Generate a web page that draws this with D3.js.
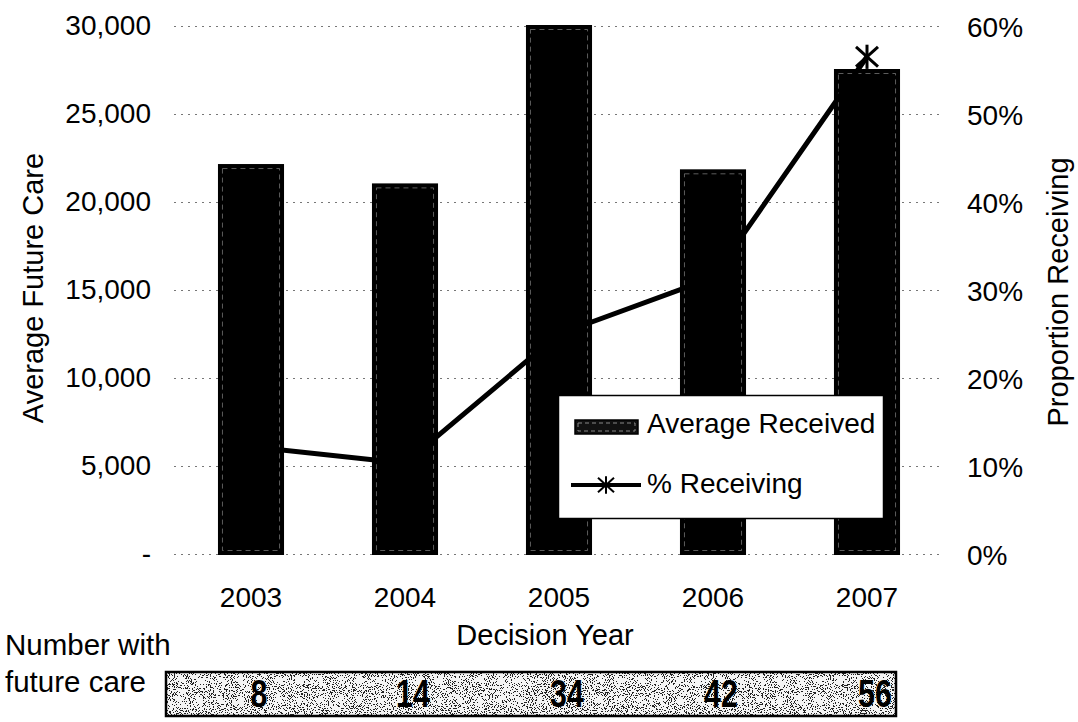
<!DOCTYPE html>
<html>
<head>
<meta charset="utf-8">
<script src="https://cdn.jsdelivr.net/npm/d3@7"></script>
<style>
  html, body { margin: 0; padding: 0; background: #fff; }
  svg { display: block; font-family: "Liberation Sans", Arial, sans-serif; }
</style>
</head>
<body>
<svg id="chart" width="1078" height="722"></svg>
<script>
// ---- data ----
const years = ["2003", "2004", "2005", "2006", "2007"];
const averageReceived = [22100, 21000, 30000, 21800, 27500];
const pctReceiving = [0.122, 0.103, 0.25, 0.314, 0.565];
const numberWithCare = [8, 14, 34, 42, 56];
const leftTicks = [0, 5000, 10000, 15000, 20000, 25000, 30000];
const leftTickLabels = ["-", "5,000", "10,000", "15,000", "20,000", "25,000", "30,000"];
const rightTicks = [0, 0.1, 0.2, 0.3, 0.4, 0.5, 0.6];
const rightTickLabels = ["0%", "10%", "20%", "30%", "40%", "50%", "60%"];
const seriesNames = ["Average Received", "% Receiving"];

// ---- layout ----
const plot = { left: 174, right: 944, top: 26, bottom: 554 };
const svg = d3.select("#chart");

const x = d3.scaleBand().domain(years).range([plot.left, plot.right])
  .paddingInner(0.584).paddingOuter(0.292);
const yL = d3.scaleLinear().domain([0, 30000]).range([plot.bottom, plot.top]);
const yR = d3.scaleLinear().domain([0, 0.6]).range([plot.bottom, plot.top]);

// speckled texture for the count strip
const defs = svg.append("defs");
const f = defs.append("filter").attr("id", "grain")
  .attr("x", 0).attr("y", 0).attr("width", "100%").attr("height", "100%");
f.append("feTurbulence").attr("type", "fractalNoise").attr("baseFrequency", 0.95)
  .attr("numOctaves", 2).attr("seed", 7).attr("result", "noise");
f.append("feColorMatrix").attr("in", "noise").attr("type", "matrix")
  .attr("values", "0 0 0 0 0  0 0 0 0 0  0 0 0 0 0  1.6 0 0 0 -0.3").attr("result", "a");
const ct = f.append("feComponentTransfer").attr("in", "a").attr("result", "mask");
ct.append("feFuncA").attr("type", "discrete")
  .attr("tableValues", "0 0 0 0 0 0 0 0 0 0 0 0 0 1 1 1 1 1 1 1");
f.append("feFlood").attr("flood-color", "#222").attr("result", "ink");
f.append("feComposite").attr("in", "ink").attr("in2", "mask").attr("operator", "in").attr("result", "dots");
f.append("feComposite").attr("in", "dots").attr("in2", "SourceGraphic").attr("operator", "over");

// ---- gridlines ----
svg.append("g").selectAll("line").data(leftTicks).join("line")
  .attr("x1", plot.left).attr("x2", plot.right)
  .attr("y1", d => yL(d) + 0.5).attr("y2", d => yL(d) + 0.5)
  .attr("stroke", "#777").attr("stroke-width", 1).attr("stroke-dasharray", "2,5");

// ---- bars ----
const bars = svg.append("g");
bars.selectAll("rect.bar").data(averageReceived).join("rect").attr("class", "bar")
  .attr("x", (d, i) => x(years[i]))
  .attr("y", d => yL(d))
  .attr("width", x.bandwidth())
  .attr("height", d => yL(0) - yL(d))
  .attr("fill", "#000").attr("stroke", "#000").attr("stroke-width", 2);
bars.selectAll("rect.inner").data(averageReceived).join("rect").attr("class", "inner")
  .attr("x", (d, i) => x(years[i]) + 3.5)
  .attr("y", d => yL(d) + 3.5)
  .attr("width", x.bandwidth() - 7)
  .attr("height", d => yL(0) - yL(d) - 7)
  .attr("fill", "none").attr("stroke", "#9a9a9a").attr("stroke-width", 1)
  .attr("stroke-dasharray", "5,4").attr("opacity", 0.6);

// ---- line ----
const cx = i => x(years[i]) + x.bandwidth() / 2;
const line = d3.line().x((d, i) => cx(i)).y(d => yR(d));
svg.append("path").datum(pctReceiving).attr("d", line)
  .attr("fill", "none").attr("stroke", "#000").attr("stroke-width", 5)
  .attr("stroke-linejoin", "round");

function asterisk(g, r, w) {
  g.append("line").attr("x1", -r).attr("y1", -r * 0.9).attr("x2", r).attr("y2", r * 0.9);
  g.append("line").attr("x1", r).attr("y1", -r * 0.9).attr("x2", -r).attr("y2", r * 0.9);
  g.append("line").attr("x1", 0).attr("y1", -r * 1.1).attr("x2", 0).attr("y2", r * 1.1);
  g.selectAll("line").attr("stroke", "#000").attr("stroke-width", w);
}
svg.append("g").selectAll("g").data(pctReceiving).join("g")
  .attr("transform", (d, i) => `translate(${cx(i)},${yR(d)})`)
  .each(function () { asterisk(d3.select(this), 11, 3); });

// ---- axes ----
const axL = svg.append("g").attr("transform", `translate(${plot.left},0)`)
  .call(d3.axisLeft(yL).tickValues(leftTicks).tickSize(0).tickPadding(23)
    .tickFormat((d, i) => leftTickLabels[i]));
const axR = svg.append("g").attr("transform", `translate(${plot.right},0)`)
  .call(d3.axisRight(yR).tickValues(rightTicks).tickSize(0).tickPadding(23)
    .tickFormat((d, i) => rightTickLabels[i]));
const axB = svg.append("g").attr("transform", `translate(0,${plot.bottom})`)
  .call(d3.axisBottom(x).tickSize(0).tickPadding(33));
[axL, axR, axB].forEach(a => {
  a.select(".domain").remove();
  a.selectAll("text").attr("font-size", 28).attr("fill", "#000")
    .attr("font-family", "'Liberation Sans', Arial, sans-serif");
});
axL.selectAll("text").attr("dy", "0.3em");
axR.selectAll("text").attr("dy", "0.36em");

// ---- axis titles ----
svg.append("text").attr("transform", "translate(43,288) rotate(-90)")
  .attr("text-anchor", "middle").attr("font-size", 29).text("Average Future Care");
svg.append("text").attr("transform", "translate(1068,292) rotate(-90)")
  .attr("text-anchor", "middle").attr("font-size", 29).text("Proportion Receiving");
svg.append("text").attr("x", 545).attr("y", 645)
  .attr("text-anchor", "middle").attr("font-size", 29).text("Decision Year");

// ---- legend ----
const lg = svg.append("g");
lg.append("rect").attr("x", 558.5).attr("y", 395.5).attr("width", 325).attr("height", 123)
  .attr("fill", "#fff").attr("stroke", "#000").attr("stroke-width", 1.5);
lg.append("rect").attr("x", 575).attr("y", 420).attr("width", 63).attr("height", 14)
  .attr("fill", "#111").attr("stroke", "#000").attr("stroke-width", 1.5);
lg.append("rect").attr("x", 578).attr("y", 423).attr("width", 57).attr("height", 8)
  .attr("fill", "none").attr("stroke", "#888").attr("stroke-width", 1).attr("stroke-dasharray", "4,3");
lg.append("line").attr("x1", 571).attr("x2", 641).attr("y1", 485).attr("y2", 485)
  .attr("stroke", "#000").attr("stroke-width", 4);
asterisk(lg.append("g").attr("transform", "translate(606,485)"), 8, 2);
lg.selectAll("text.lab").data(seriesNames).join("text").attr("class", "lab")
  .attr("x", 647).attr("y", (d, i) => 433 + i * 60)
  .attr("font-size", 28).text(d => d);

// ---- counts strip ----
svg.append("text").attr("x", 5).attr("y", 655).attr("font-size", 29.5).text("Number with");
svg.append("text").attr("x", 5).attr("y", 692).attr("font-size", 29.5).text("future care");
svg.append("rect").attr("x", 166).attr("y", 672).attr("width", 730).attr("height", 44)
  .attr("fill", "#f4f4f4").attr("filter", "url(#grain)");
svg.append("rect").attr("x", 166).attr("y", 672).attr("width", 730).attr("height", 44)
  .attr("fill", "none").attr("stroke", "#000").attr("stroke-width", 2.5);
svg.append("g").selectAll("text").data(numberWithCare).join("text")
  .attr("transform", (d, i) => `translate(${cx(i) + 8},707) scale(0.8,1)`)
  .attr("text-anchor", "middle").attr("font-size", 38).attr("font-weight", "bold")
  .text(d => d);
</script>
</body>
</html>
